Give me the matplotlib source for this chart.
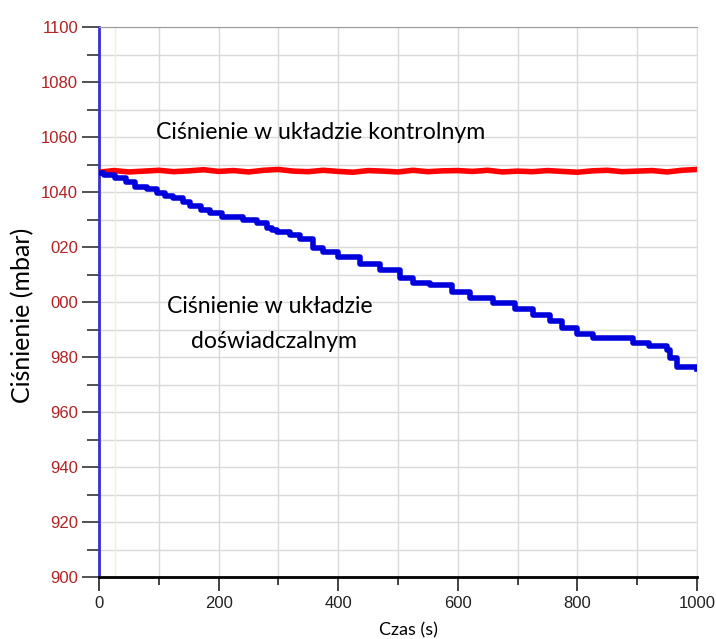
import matplotlib.pyplot as plt
from matplotlib.ticker import MultipleLocator

# control system (red) - read every 25 s
t_ctrl = [0, 25, 50, 75, 100, 125, 150, 175, 200, 225, 250, 275, 300, 325, 350, 375,
          400, 425, 450, 475, 500, 525, 550, 575, 600, 625, 650, 675, 700, 725, 750,
          775, 800, 825, 850, 875, 900, 925, 950, 975, 1000]
p_ctrl = [1047.2, 1047.8, 1047.3, 1047.6, 1047.9, 1047.4, 1047.7, 1048.1, 1047.5, 1047.8,
          1047.3, 1047.9, 1048.2, 1047.6, 1047.4, 1047.9, 1047.5, 1047.2, 1047.8, 1047.6,
          1047.3, 1047.9, 1047.4, 1047.7, 1047.8, 1047.5, 1047.9, 1047.3, 1047.6, 1047.4,
          1047.8, 1047.5, 1047.2, 1047.7, 1047.9, 1047.4, 1047.6, 1047.8, 1047.3, 1047.9, 1048.2]

t_exp = [0, 8, 27, 45, 60, 80, 97, 110, 124, 140, 152, 170, 186, 205, 241, 265, 281, 290,
         298, 320, 336, 358, 375, 400, 436, 470, 503, 525, 553, 590, 620, 659, 696, 726,
         754, 775, 799, 826, 893, 920, 950, 955, 967, 1000]
p_exp = [1047.0, 1046.2, 1045.0, 1043.6, 1041.8, 1041.0, 1039.5, 1038.6, 1037.8, 1036.2,
         1035.0, 1033.6, 1032.3, 1030.8, 1030.0, 1028.6, 1027.0, 1026.2, 1025.5, 1024.2,
         1023.0, 1019.8, 1018.2, 1016.5, 1014.0, 1011.5, 1008.7, 1007.0, 1006.2, 1003.6,
         1001.5, 999.6, 997.5, 995.3, 993.0, 990.6, 988.5, 986.9, 985.0, 984.0, 982.5,
         979.5, 976.5, 975.6]

fig = plt.figure(figsize=(7.16, 6.39), dpi=100)
ax = fig.add_axes([0.1383, 0.097, 0.835, 0.8607])

ax.set_xlim(0, 1000)
ax.set_ylim(900, 1100)
ax.xaxis.set_major_locator(MultipleLocator(200))
ax.xaxis.set_minor_locator(MultipleLocator(100))
ax.yaxis.set_major_locator(MultipleLocator(20))
ax.yaxis.set_minor_locator(MultipleLocator(10))
ax.grid(which='both', color='#d9d9d9', linewidth=1)
ax.set_axisbelow(True)

ax.axvline(27, color='#fdebd0', linewidth=1, zorder=1)

ax.plot(t_ctrl, p_ctrl, color='#ff0000', linewidth=4, zorder=3)
ax.step(t_exp, p_exp, where='post', color='#0000dd', linewidth=4, zorder=4)

ytick_vals = [900, 920, 940, 960, 980, 1000, 1020, 1040, 1060, 1080, 1100]
ytick_labels = ['900', '920', '940', '960', '980', '000', '020', '1040', '1060', '1080', '1100']
ax.set_yticks(ytick_vals)
ax.set_yticklabels(ytick_labels)
xtick_vals = [0, 200, 400, 600, 800, 1000]
ax.set_xticks(xtick_vals)
ax.set_xticklabels([str(v) for v in xtick_vals])

ax.tick_params(axis='y', which='major', length=12, width=1.2, color='#333333',
               labelcolor='#b22222', labelsize=12, pad=3)
ax.tick_params(axis='y', which='minor', length=9, width=1.2, color='#333333')
ax.tick_params(axis='x', which='major', length=10, width=1.2, color='#222222',
               labelcolor='#222222', labelsize=12, pad=4)
ax.tick_params(axis='x', which='minor', length=6, width=1.2, color='#222222')
for lbl in ax.get_xticklabels() + ax.get_yticklabels():
    lbl.set_family('Liberation Sans')

ax.spines['left'].set_color('#3a2fd0')
ax.spines['left'].set_linewidth(2)
ax.spines['bottom'].set_color('black')
ax.spines['bottom'].set_linewidth(2)
ax.spines['top'].set_color('#9a9a9a')
ax.spines['right'].set_color('#dddddd')

ax.text(371, 1061.8, 'Ciśnienie w układzie kontrolnym', fontsize=16.7,
        family='Lato', ha='center', va='center')
ax.text(286, 998.2, 'Ciśnienie w układzie', fontsize=16.6,
        family='Lato', ha='center', va='center')
ax.text(293, 985.5, 'doświadczalnym', fontsize=16.6,
        family='Lato', ha='center', va='center')

fig.text(0.031, 0.507, 'Ciśnienie (mbar)', rotation=90, fontsize=18,
         family='Lato', ha='center', va='center')
fig.text(0.570, 0.014, 'Czas (s)', fontsize=13, family='Lato',
         ha='center', va='center')

fig.savefig('out.png', dpi=100)
